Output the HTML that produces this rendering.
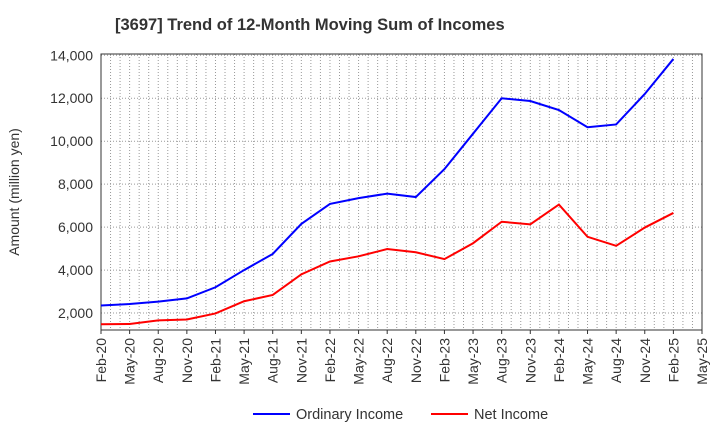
<!DOCTYPE html>
<html><head><meta charset="utf-8"><style>
body{margin:0;background:#fff;font-family:"Liberation Sans",sans-serif}
svg text{font-family:"Liberation Sans",sans-serif;fill:#333}
</style></head><body>
<svg id="c" width="720" height="440"></svg>
<script>
const categories=["Feb-20","May-20","Aug-20","Nov-20","Feb-21","May-21","Aug-21","Nov-21","Feb-22","May-22","Aug-22","Nov-22","Feb-23","May-23","Aug-23","Nov-23","Feb-24","May-24","Aug-24","Nov-24","Feb-25","May-25"];
const ordinaryIncome=[2350,2420,2530,2680,3200,4000,4750,6150,7080,7350,7560,7400,8700,10350,12000,11870,11450,10650,10780,12200,13830];
const netIncome=[1480,1490,1660,1700,1980,2550,2840,3800,4400,4640,4980,4830,4510,5250,6250,6130,7050,5550,5130,5980,6660];
const yTicks=[2000,4000,6000,8000,10000,12000,14000];
const NS="http://www.w3.org/2000/svg",svg=document.getElementById('c');
const L=101,R=702,T=54,B=330,yMin=1210,yMax=14060,nQ=categories.length-1;
const x=i=>L+(R-L)*i/nQ, y=v=>B-(B-T)*(v-yMin)/(yMax-yMin);
function mk(t,a,p){const e=document.createElementNS(NS,t);for(const k in a)e.setAttribute(k,a[k]);(p||svg).appendChild(e);return e;}
const g=mk('g',{});


for(let m=1;m<nQ*3;m++){const xx=L+(R-L)*m/(nQ*3);mk('line',{x1:xx,x2:xx,y1:T,y2:B,stroke:'#999','stroke-dasharray':'1,2','stroke-width':1},g);}
yTicks.forEach(v=>{mk('line',{x1:L,x2:R,y1:y(v),y2:y(v),stroke:'#999','stroke-dasharray':'1,2'},g);
const t=mk('text',{x:L-8,y:y(v)+5,'text-anchor':'end','font-size':14});t.textContent=v.toLocaleString('en-US');

});
const f=mk('rect',{x:L,y:T,width:R-L,height:B-T,fill:'none',stroke:'#333'});


categories.forEach((c,i)=>{mk('line',{x1:x(i),x2:x(i),y1:B,y2:B+4,stroke:'#333'});
const t=mk('text',{transform:`translate(${x(i)+5},${B+8}) rotate(-90)`,'text-anchor':'end','font-size':14});t.textContent=c;

});
function line(d,col,name){const p=mk('polyline',{points:d.map((v,i)=>x(i)+','+y(v)).join(' '),fill:'none',stroke:col,'stroke-width':2});

}
line(ordinaryIncome,'#0000ff','ordinary-income-line');
line(netIncome,'#ff0000','net-income-line');
const ti=mk('text',{x:115,y:30,'font-size':16.5,'font-weight':'bold'});ti.textContent='[3697]  Trend of 12-Month Moving Sum of Incomes';


const yl=mk('text',{transform:'translate(19,192) rotate(-90)','text-anchor':'middle','font-size':14});yl.textContent='Amount (million yen)';


[['Ordinary Income','#0000ff',253],['Net Income','#ff0000',431]].forEach(([n,c,lx])=>{
const lg=mk('g',{});


mk('line',{x1:lx,x2:lx+37,y1:414,y2:414,stroke:c,'stroke-width':2},lg);
const t=mk('text',{x:lx+43,y:419,'font-size':14.5},lg);t.textContent=n;});
</script>
</body></html>
